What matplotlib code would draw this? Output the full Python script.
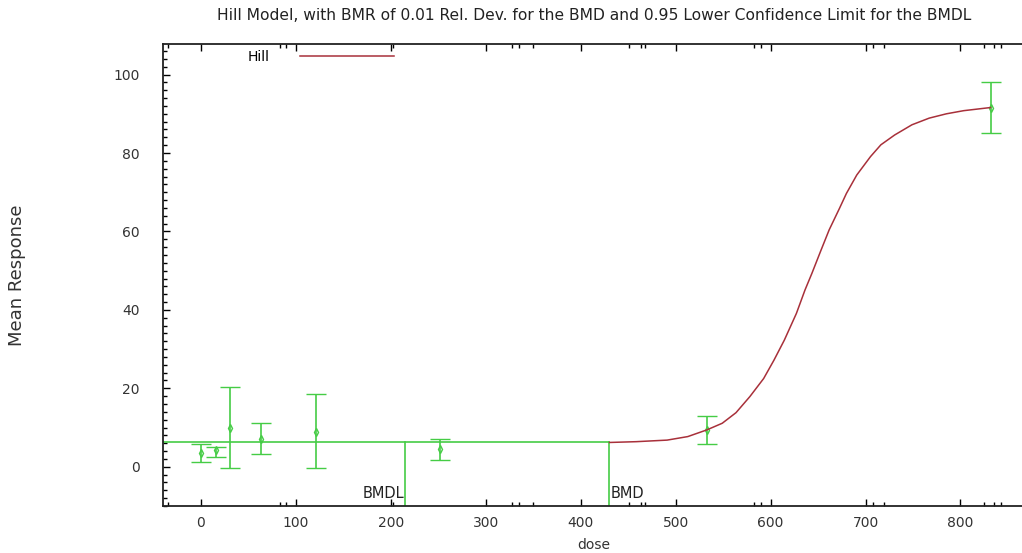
import numpy as np
import matplotlib
matplotlib.use("Agg")
import matplotlib.pyplot as plt
from matplotlib.ticker import MultipleLocator, FixedLocator

plt.rcParams["font.family"] = ["DejaVu Sans"]

# Observed group means with their error bar limits
dose = [0, 16, 31, 63, 121, 252, 533, 832]
mean = [3.6, 4.3, 9.9, 7.1, 8.9, 4.6, 9.4, 91.6]
lower = [1.3, 2.4, -0.4, 3.3, -0.4, 1.7, 5.7, 85.0]
upper = [5.8, 5.0, 20.4, 11.1, 18.5, 7.2, 12.9, 98.1]

# Fitted Hill curve
curve_dose = [430.3, 458.3, 491.0, 512.8, 532.8, 549.1, 563.6, 578.2, 592.7,
              603.6, 614.5, 627.2, 636.3, 643.5, 652.6, 661.7, 672.6, 679.9,
              690.8, 705.3, 716.2, 730.7, 748.9, 767.1, 785.2, 803.4, 831.7]
curve_resp = [6.2, 6.4, 6.8, 7.7, 9.4, 11.1, 13.8, 17.9, 22.5,
              27.2, 32.3, 39.1, 45.1, 49.3, 54.9, 60.4, 65.9, 69.7,
              74.4, 79.1, 82.1, 84.6, 87.2, 88.9, 90.0, 90.8, 91.6]

bmdl = 215
bmd = 430
bmr_level = 6.2

green = "#45cc45"
red = "#a8303a"
txt = "#333333"

fig = plt.figure(figsize=(10.22, 5.53), dpi=100)
ax = fig.add_axes([163 / 1022, 47 / 553, 1 - 163 / 1022 + 0.002, 462 / 553])
ax.set_xlim(-40, 867)
ax.set_ylim(-10, 107.8)

# error bars
yerr = [np.array(mean) - np.array(lower), np.array(upper) - np.array(mean)]
ax.errorbar(dose, mean, yerr=yerr, fmt="d", color=green, ms=4, mfc="none",
            mew=1, elinewidth=1.2, capsize=7, capthick=1.2, zorder=3)

# BMD / BMDL markers
ax.plot([-40, bmd], [bmr_level, bmr_level], color=green, lw=1.2)
ax.plot([bmdl, bmdl], [-10, bmr_level], color=green, lw=1.2)
ax.plot([bmd, bmd], [-10, bmr_level], color=green, lw=1.2)
ax.text(bmdl - 1, -8.8, "BMDL", ha="right", va="bottom", fontsize=10.5, color="#222222")
ax.text(bmd + 1, -8.8, "BMD", ha="left", va="bottom", fontsize=10.5, color="#222222")

# model curve
ax.plot(curve_dose, curve_resp, color=red, lw=1.1, label="Hill", zorder=4)

ax.legend(loc="upper left", bbox_to_anchor=((247 - 163) / 859.5, 1 - 6 / 462), frameon=False,
          markerfirst=False, borderpad=0, borderaxespad=0,
          handlelength=6.8, handletextpad=2.2, fontsize=10)

ax.xaxis.set_major_locator(MultipleLocator(100))
ax.xaxis.set_minor_locator(FixedLocator([-35, 83, 90, 202, 328, 335, 350, 451, 463, 468,
                                         583, 590, 708, 719, 825, 835, 843]))
ax.yaxis.set_major_locator(FixedLocator([0, 20, 40, 60, 80, 100]))
ax.yaxis.set_minor_locator(MultipleLocator(2))
ax.tick_params(which="both", direction="in", top=True, right=False, labelsize=10,
               labelcolor=txt, width=1)
ax.tick_params(which="major", length=5)
ax.tick_params(which="minor", length=3)
ax.tick_params(axis="x", pad=7)
ax.tick_params(axis="y", pad=17)
for side in ["left", "bottom", "top"]:
    ax.spines[side].set_linewidth(1.3)
    ax.spines[side].set_color("#222222")
ax.spines["right"].set_visible(False)

ax.set_xlabel("dose", fontsize=10, color=txt, labelpad=6)
fig.text(17 / 1022, 1 - 275 / 553, "Mean Response", rotation=90, ha="center", va="center",
         fontsize=13, color=txt)
fig.text(594 / 1022, 1 - 16 / 553,
         "Hill Model, with BMR of 0.01 Rel. Dev. for the BMD and 0.95 Lower Confidence Limit for the BMDL",
         ha="center", va="center", fontsize=11.2, color="#222222")

fig.savefig("out.png", dpi=100)
